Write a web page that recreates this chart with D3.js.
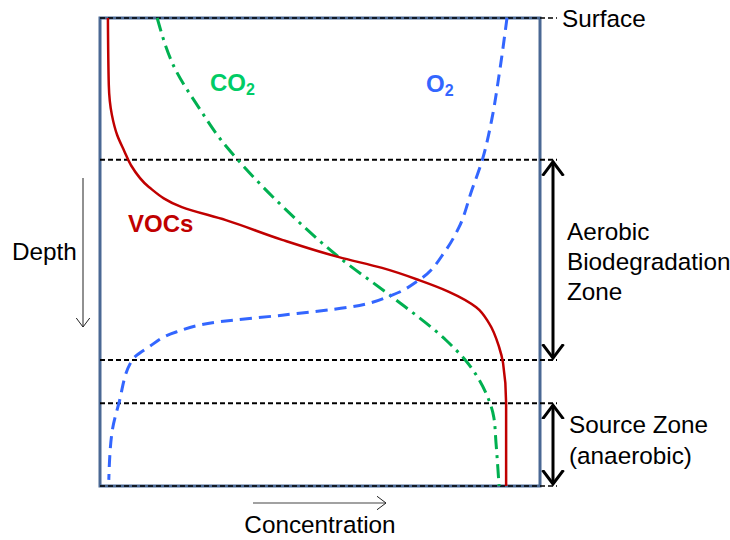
<!DOCTYPE html>
<html>
<head>
<meta charset="utf-8">
<script src="https://cdn.jsdelivr.net/npm/d3@7"></script>
<style>
  body { margin: 0; background: #fff; }
  text { font-family: "Liberation Sans", Arial, sans-serif; }
</style>
</head>
<body>
<div id="chart"></div>
<script>
// depth (0 = surface, 100 = bottom) and relative concentration (0-100)
const vocDepth = [0, 14.3, 20.7, 25.0, 28.4, 31.4, 36.1, 40.4, 43.2, 47.4, 51.1, 53.4, 56.0, 58.5, 61.8, 65.2, 70.3, 73.7, 82.3, 88.7, 100];
const vocConc  = [1.8, 2.0, 2.7, 3.9, 5.5, 7.0, 11.1, 18.6, 28.6, 41.4, 54.3, 64.1, 72.5, 79.3, 85.5, 88.4, 90.7, 91.6, 92.3, 92.3, 92.3];

const co2Depth = [0, 11.3, 19.2, 26.3, 30.6, 41.0, 51.1, 59.6, 68.8, 73.3, 80.1, 85.3, 90.8, 100];
const co2Conc  = [13.0, 17.3, 22.5, 27.7, 31.6, 42.3, 54.3, 66.4, 78.6, 83.2, 87.7, 89.5, 90.0, 90.7];

const o2Depth = [0, 12.2, 21.4, 30.6, 36.8, 44.7, 49.6, 56.0, 59.2, 61.8, 63.5, 65.0, 67.1, 70.3, 73.1, 82.3, 88.7, 98.7];
const o2Conc  = [92.5, 90.7, 89.1, 86.8, 84.5, 81.6, 78.6, 72.5, 66.4, 56.6, 41.4, 26.4, 17.3, 11.1, 7.3, 4.3, 2.7, 2.0];

// zone boundaries (depth)
const zoneLines = [0, 30.3, 73.1, 82.3, 100];
const aerobicZone = [30.3, 73.1];
const sourceZone = [82.3, 100];

const width = 730, height = 540;
const box = { left: 100, right: 540, top: 18, bottom: 486 };

const svg = d3.select('#chart').append('svg')
    .attr('width', width)
    .attr('height', height);

const x = d3.scaleLinear().domain([0, 100]).range([box.left, box.right]);
const y = d3.scaleLinear().domain([0, 100]).range([box.top, box.bottom]);

// arrow markers
const defs = svg.append('defs');
function marker(id, size, sw, color) {
  defs.append('marker')
      .attr('id', id)
      .attr('viewBox', `${-size} ${-size} ${size * 2} ${size * 2}`)
      .attr('markerUnits', 'userSpaceOnUse')
      .attr('markerWidth', size * 2)
      .attr('markerHeight', size * 2)
      .attr('refX', 0).attr('refY', 0)
      .attr('orient', 'auto-start-reverse')
    .append('path')
      .attr('d', `M${-size},${-size * 0.75}L0,0L${-size},${size * 0.75}`)
      .attr('fill', 'none')
      .attr('stroke', color)
      .attr('stroke-width', sw);
}
marker('bigArrow', 14, 3, '#000');
marker('thinArrow', 9, 1, '#222');

// box
svg.append('rect')
    .attr('x', box.left).attr('y', box.top)
    .attr('width', box.right - box.left)
    .attr('height', box.bottom - box.top)
    .attr('fill', 'none')
    .attr('stroke', '#4a6894')
    .attr('stroke-width', 3);

// zone lines
svg.append('g').selectAll('line')
  .data(zoneLines)
  .join('line')
    .attr('x1', box.left).attr('x2', 557)
    .attr('y1', d => y(d)).attr('y2', d => y(d))
    .attr('stroke', '#000')
    .attr('stroke-width', (d, i) => (i === 0 || i === zoneLines.length - 1) ? 1.5 : 2)
    .attr('stroke-dasharray', '5,3');

const line = d3.line()
    .x(d => x(d[0]))
    .y(d => y(d[1]))
    .curve(d3.curveMonotoneY);

const series = [
  { conc: co2Conc, depth: co2Depth, color: '#00b050', dash: '14,6,3,6', w: 3 },
  { conc: o2Conc, depth: o2Depth, color: '#3366ff', dash: '12,7', w: 3 },
  { conc: vocConc, depth: vocDepth, color: '#c00000', dash: null, w: 2.5 }
];

svg.append('g').selectAll('path')
  .data(series)
  .join('path')
    .attr('d', s => line(s.conc.map((c, i) => [c, s.depth[i]])))
    .attr('fill', 'none')
    .attr('stroke', s => s.color)
    .attr('stroke-width', s => s.w)
    .attr('stroke-dasharray', s => s.dash);

// series labels
const lab = svg.append('g').attr('font-weight', 'bold').attr('font-size', 24);
const co2 = lab.append('text').attr('x', 210).attr('y', 91).attr('fill', '#00cc66');
co2.append('tspan').text('CO');
co2.append('tspan').attr('font-size', 16).attr('dy', 4).text('2');
const o2 = lab.append('text').attr('x', 426).attr('y', 92).attr('fill', '#3366ff');
o2.append('tspan').text('O');
o2.append('tspan').attr('font-size', 16).attr('dy', 4).text('2');
lab.append('text').attr('x', 128).attr('y', 232).attr('fill', '#c00000').text('VOCs');

// zone arrows
const arrowX = 553;
svg.append('g').selectAll('line')
  .data([aerobicZone, sourceZone])
  .join('line')
    .attr('x1', arrowX).attr('x2', arrowX)
    .attr('y1', d => y(d[0]) + 2).attr('y2', d => y(d[1]) - 2)
    .attr('stroke', '#000')
    .attr('stroke-width', 3)
    .attr('marker-start', 'url(#bigArrow)')
    .attr('marker-end', 'url(#bigArrow)');

// right-hand text
const txt = svg.append('g').attr('font-size', 24.3).attr('fill', '#000');
txt.append('text').attr('x', 562).attr('y', 27).text('Surface');
['Aerobic', 'Biodegradation', 'Zone'].forEach((t, i) =>
  txt.append('text').attr('x', 567).attr('y', 240 + i * 30).text(t));
['Source Zone', '(anaerobic)'].forEach((t, i) =>
  txt.append('text').attr('x', 569).attr('y', 433 + i * 31).text(t));

// axis hints
txt.append('text').attr('x', 12).attr('y', 260).text('Depth');
svg.append('line')
    .attr('x1', 83).attr('x2', 83).attr('y1', 178).attr('y2', 327)
    .attr('stroke', '#222').attr('stroke-width', 1)
    .attr('marker-end', 'url(#thinArrow)');

txt.append('text').attr('x', 320).attr('y', 533).attr('text-anchor', 'middle').text('Concentration');
svg.append('line')
    .attr('x1', 253).attr('x2', 386).attr('y1', 503).attr('y2', 503)
    .attr('stroke', '#444').attr('stroke-width', 1.2)
    .attr('marker-end', 'url(#thinArrow)');
</script>
</body>
</html>
